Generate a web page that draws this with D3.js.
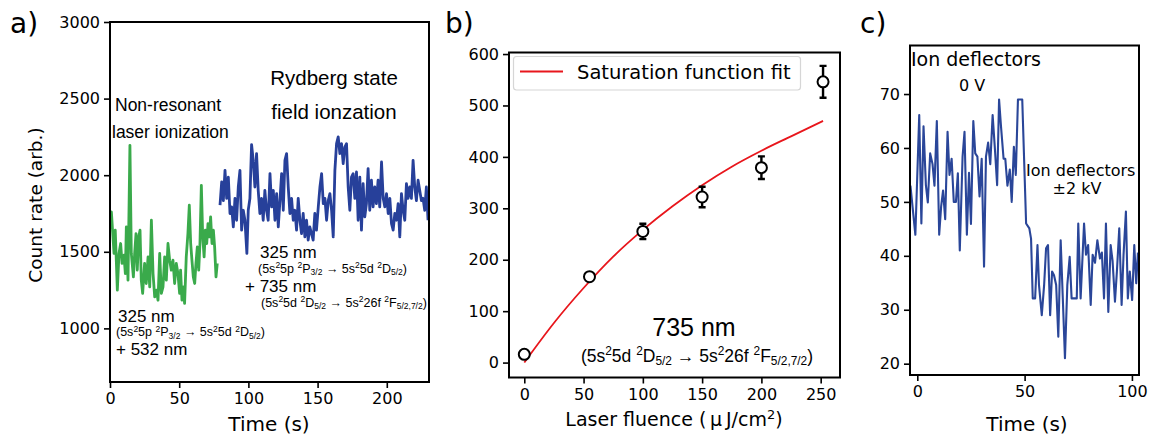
<!DOCTYPE html>
<meta charset="utf-8">
<style>
body { margin: 0; background: #fff; }
svg { font-family: "DejaVu Sans", sans-serif; }
.tick text { font-size: 16px; fill: #000; }
.domain { display: none; }
.tick line { stroke: #000; stroke-width: 1.6px; }
.frame { fill: none; stroke: #000; stroke-width: 2px; }
.ann { font-family: "Liberation Sans", Arial, sans-serif; fill: #000; }
</style>
<svg width="1149" height="434"></svg>
<script src="https://cdn.jsdelivr.net/npm/d3@7"></script>
<script>

// ---- panel a: count rate vs time
var greenTime = [0,1,2.9,3.8,5.3,6.5,7.7,8.7,10.1,11.1,11.8,13,14.4,15.4,16.9,17.8,18.8,19.7,20.7,21.7,22.6,23.6,25,26.2,27.5,28.7,29.9,31.1,32.3,33.5,34.7,35.9,37.1,38.3,39.5,40.7,41.9,43.1,44.3,45.5,46.7,47.9,49.1,50.3,51,52,53,53.9,55.1,56.3,57.3,58.3,59.2,60.2,61.2,62.1,63.1,64.1,65,66,67,68,68.9,69.9,70.8,71.8,72.7,73.7,74.7,75.6,76.6,77.5];
var greenRate = [1654,1760,1489,1641,1250,1489,1554,1424,1478,1358,1662,1315,2195,1489,1336,1489,1619,1380,1597,1641,1315,1228,1424,1293,1467,1271,1706,1358,1206,1250,1184,1489,1228,1271,1467,1315,1554,1445,1380,1445,1293,1424,1358,1228,1380,1184,1271,1163,1467,1619,1804,1554,1445,1336,1293,1424,1532,1380,1554,1934,1597,1467,1641,1554,1684,1597,1728,1554,1641,1532,1336,1424];

var blueTime = [79.5,80.7,81.9,83.1,84.3,85.5,86.7,87.9,89.1,90.3,91.5,92.7,93.9,95.1,96.3,97.5,98.9,99.9,101.1,102.3,103.5,104.7,105.9,107.1,108.3,109.5,110.7,111.9,113.1,114.3,115.6,116.8,118,119.2,120.4,121.6,122.8,124,125.2,126.4,127.6,128.8,130,131.2,132.4,133.6,134.8,136,137.2,138.4,139.6,140.8,142,143.2,144.4,145.6,146.8,148,149.2,150.5,151.7,152.9,154.1,155.3,156.5,157.7,158.9,160.1,161.3,162.5,163.7,164.9,166.1,167.3,168.5,169.7,170.9,172.1,173.3,174.5,175.7,176.9,178.1,179.3,180.5,181.7,182.9,184.1,185.3,186.5,187.7,188.9,190.1,191.3,192.5,193.7,194.9,196.2,197.4,198.6,199.8,201,202.2,203.4,204.6,205.8,207,208.2,209.4,210.6,211.8,213,214.2,215.4,216.6,217.8,219,220.2,221.4,222.6,223.8,225,226.2,227.4,228.6,229.8];
var blueRate = [1804,1956,1834,2032,1849,1988,1750,1793,1662,1849,1706,1923,2032,1641,1771,1706,1489,1771,1849,2200,2097,1923,2141,1901,1750,1849,1706,1901,1771,1706,2010,1793,1901,1706,1880,1662,1834,2010,1771,2097,2141,1923,1750,1849,1706,1771,1641,1849,1706,1619,1750,1597,1706,1576,1662,1619,1576,1750,1641,1793,1923,2010,1814,1849,1706,1834,1880,1771,1597,2032,2206,2250,2141,2206,2075,2184,2206,1923,1771,1988,2010,1849,2021,1706,1988,1641,1945,1728,1814,2043,1771,1967,1793,1923,1814,1967,1793,2086,1849,1793,1880,1750,1849,1684,1641,1750,1706,1814,1597,1880,1771,1706,1945,1849,1923,1849,2097,1923,1834,1967,1901,1834,1849,1771,1923,1706];

var timeTicksA = [0, 50, 100, 150, 200];
var rateTicks = [1000, 1500, 2000, 2500, 3000];

// ---- panel b: signal vs laser fluence
var fluence = [0, 55, 100, 150, 200, 252];
var signal = [16, 167, 255, 322, 379, 546];
var signalErr = [3, 4, 15, 20, 22, 31];
var fitFluence = [0, 25, 50, 75, 100, 125, 150, 175, 200, 225, 252];
var fitSignal = [0, 77, 145, 206, 258, 304, 345, 381, 412, 440, 470];
var fluenceTicks = [0, 50, 100, 150, 200, 250];
var signalTicks = [0, 100, 200, 300, 400, 500, 600];

// ---- panel c: counts vs time with deflectors
var cTime = [-3.2,-0.9,0.9,1.9,2.9,4,4.9,6,7.1,8,9.1,10.2,11.1,12,13,14.1,15,16,17,18,18.9,19.8,21.1,22,23.1,24.1,25,26.1,27,28,29,30,31.1,32,33,34,35.1,36.2,37.2,38.1,39,40.2,41,42,43.1,44,45,45.9,46.9,48.9,50.7,52.2,53,53.8,54.9,56,56.7,58,59.1,60,60.9,61.9,62.8,63.7,64.7,65.7,66.8,67.8,68.8,69.9,71,71.9,73.2,74.3,75,76.1,77.7,78.6,79.6,80.8,81.7,82.8,83.9,85.1,86,87,87.9,89,90.1,91,92.1,93,94.1,95.2,96.1,97.2,98.1,99,100.1,101.1,102,102.8];
var cCount = [53,43.9,66.1,46,64,53.1,49.9,59,57,53,65,43.9,49.1,52.1,46.8,63,55,58,50,50,55.3,41,58.4,63,43.9,55.4,45.9,65,59,58.4,51,58,38,58.4,61,57,66.1,59.6,53.1,69,64,58,58,53,56,50,60.2,55,69,69,46,45.1,43.2,32.1,32.1,42,34.6,29,34.6,41.4,42,29,37.1,36.4,34.6,25,42.9,32.1,21,34.6,39.8,32.1,32.1,32.1,46,32.1,46,40.2,42,30.9,40.2,38.7,42.9,39.5,40.6,32.1,46,29.6,42,39,31.5,37.1,45.1,30.9,40.2,48.2,32.1,37.1,31.8,42,34.9,40.6];
var timeTicksC = [0, 50, 100];
var countTicks = [20, 30, 40, 50, 60, 70];

var svg = d3.select("svg");
var defs = svg.append("defs");

function panel(id, box, xDom, yDom, xTicks, yTicks) {
  defs.append("clipPath").attr("id", id)
    .append("rect").attr("x", box.l).attr("y", box.t)
    .attr("width", box.r - box.l).attr("height", box.b - box.t);
  var x = d3.scaleLinear().domain(xDom).range([box.l, box.r]);
  var y = d3.scaleLinear().domain(yDom).range([box.b, box.t]);
  svg.append("g").attr("transform", "translate(0," + box.b + ")")
    .call(d3.axisBottom(x).tickValues(xTicks).tickFormat(d3.format("d"))
      .tickSize(6).tickPadding(5).tickSizeOuter(0))
    .attr("font-family", null).attr("font-size", null);
  svg.append("g").attr("transform", "translate(" + box.l + ",0)")
    .call(d3.axisLeft(y).tickValues(yTicks).tickFormat(d3.format("d"))
      .tickSize(6).tickPadding(4).tickSizeOuter(0))
    .attr("font-family", null).attr("font-size", null);
  var g = svg.append("g").attr("clip-path", "url(#" + id + ")");
  return {x: x, y: y, g: g, box: box};
}

function frame(p) {
  svg.append("rect").attr("class", "frame")
    .attr("x", p.box.l).attr("y", p.box.t)
    .attr("width", p.box.r - p.box.l).attr("height", p.box.b - p.box.t);
}

function drawLine(p, xs, ys, color, w) {
  var line = d3.line().x(function(d, i) { return p.x(xs[i]); }).y(function(d) { return p.y(d); });
  p.g.append("path").datum(ys).attr("d", line)
    .attr("fill", "none").attr("stroke", color).attr("stroke-width", w)
    .attr("stroke-linejoin", "round");
}

// rich text: parts are [text, "n" | "sup" | "sub"]
function rich(x, y, parts, size, anchor) {
  var t = svg.append("text").attr("class", "ann").attr("x", x).attr("y", y)
    .attr("font-size", size).attr("text-anchor", anchor || "start");
  var shift = 0;
  parts.forEach(function(p) {
    var target = p[1] == "sup" ? -0.36 * size : p[1] == "sub" ? 0.22 * size : 0;
    t.append("tspan").attr("dy", target - shift)
      .attr("font-size", p[1] == "n" ? size : size * 0.68).text(p[0]);
    shift = target;
  });
  return t;
}

function label(x, y, txt, size, anchor, fam) {
  return svg.append("text").attr("x", x).attr("y", y).attr("font-size", size)
    .attr("text-anchor", anchor || "start").attr("font-family", fam || null).text(txt);
}

// ---------------- panel a
var pa = panel("clipA", {l: 110, t: 22, r: 429, b: 382}, [0, 230.5], [650, 3000], timeTicksA, rateTicks);
drawLine(pa, greenTime, greenRate, "#3aaa4b", 2.8);
drawLine(pa, blueTime, blueRate, "#27409a", 2.8);
frame(pa);

label(10, 33, "a)", 28);
label(269, 430.5, "Time (s)", 20, "middle");
svg.append("text").attr("transform", "translate(42,205) rotate(-90)")
  .attr("font-size", 18.5).attr("text-anchor", "middle").text("Count rate (arb.)");

var arial = "Liberation Sans, Arial, sans-serif";
label(115, 111, "Non-resonant", 17.5, "start", arial);
label(112, 137.5, "laser ionization", 17.5, "start", arial);
label(334, 85, "Rydberg state", 20.5, "middle", arial);
label(334, 118.5, "field ionzation", 20.5, "middle", arial);

label(118, 321.5, "325 nm", 17, "start", arial);
rich(116, 336, [["(5s", "n"], ["2", "sup"], ["5p ", "n"], ["2", "sup"], ["P", "n"], ["3/2", "sub"], [" \u2192 5s", "n"], ["2", "sup"], ["5d ", "n"], ["2", "sup"], ["D", "n"], ["5/2", "sub"], [")", "n"]], 12.5);
label(116, 354.5, "+ 532 nm", 17, "start", arial);

label(260, 257.5, "325 nm", 17, "start", arial);
rich(258, 272.5, [["(5s", "n"], ["2", "sup"], ["5p ", "n"], ["2", "sup"], ["P", "n"], ["3/2", "sub"], [" \u2192 5s", "n"], ["2", "sup"], ["5d ", "n"], ["2", "sup"], ["D", "n"], ["5/2", "sub"], [")", "n"]], 12.5);
label(245, 292, "+ 735 nm", 17, "start", arial);
rich(261, 306.5, [["(5s", "n"], ["2", "sup"], ["5d ", "n"], ["2", "sup"], ["D", "n"], ["5/2", "sub"], [" \u2192 5s", "n"], ["2", "sup"], ["26f ", "n"], ["2", "sup"], ["F", "n"], ["5/2,7/2", "sub"], [")", "n"]], 12.5);

// ---------------- panel b
var pb = panel("clipB", {l: 509, t: 52.5, r: 840, b: 377.5}, [-12.9, 266.3], [-29, 603], fluenceTicks, signalTicks);
pb.g.append("path").datum(fitSignal)
  .attr("d", d3.line().curve(d3.curveMonotoneX)
    .x(function(d, i) { return pb.x(fitFluence[i]); }).y(function(d) { return pb.y(d); }))
  .attr("fill", "none").attr("stroke", "#e8161c").attr("stroke-width", 1.8);

var pts = pb.g.selectAll(".pt").data(fluence).enter().append("g");
pts.append("line")
  .attr("x1", function(d) { return pb.x(d); }).attr("x2", function(d) { return pb.x(d); })
  .attr("y1", function(d, i) { return pb.y(signal[i] - signalErr[i]); })
  .attr("y2", function(d, i) { return pb.y(signal[i] + signalErr[i]); })
  .attr("stroke", "#000").attr("stroke-width", 2.4);
[-1, 1].forEach(function(s) {
  pts.append("line")
    .attr("x1", function(d) { return pb.x(d) - 3.5; }).attr("x2", function(d) { return pb.x(d) + 3.5; })
    .attr("y1", function(d, i) { return pb.y(signal[i] + s * signalErr[i]); })
    .attr("y2", function(d, i) { return pb.y(signal[i] + s * signalErr[i]); })
    .attr("stroke", "#000").attr("stroke-width", 2.4);
});
pts.append("circle")
  .attr("cx", function(d) { return pb.x(d); })
  .attr("cy", function(d, i) { return pb.y(signal[i]); })
  .attr("r", 5.5).attr("fill", "#fff").attr("stroke", "#000").attr("stroke-width", 2);
frame(pb);

svg.append("rect").attr("x", 513.5).attr("y", 56.5).attr("width", 287).attr("height", 33.5)
  .attr("rx", 3).attr("fill", "#fff").attr("stroke", "#d6d6d6").attr("stroke-width", 1.2);
svg.append("line").attr("x1", 520).attr("x2", 563).attr("y1", 71.5).attr("y2", 71.5)
  .attr("stroke", "#e8161c").attr("stroke-width", 2.2);
label(577, 79, "Saturation function fit", 19.5);

label(445, 33, "b)", 28);
var xl = svg.append("text").attr("x", 674).attr("y", 426).attr("font-size", 19).attr("text-anchor", "middle");
xl.append("tspan").text("Laser fluence (\u2009\u03bc\u2009J/cm");
xl.append("tspan").attr("dy", -7).attr("font-size", 13).text("2");
xl.append("tspan").attr("dy", 7).text(")");

label(694, 336, "735 nm", 25, "middle", arial);
rich(697, 361.5, [["(5s", "n"], ["2", "sup"], ["5d ", "n"], ["2", "sup"], ["D", "n"], ["5/2", "sub"], [" \u2192 5s", "n"], ["2", "sup"], ["26f ", "n"], ["2", "sup"], ["F", "n"], ["5/2,7/2", "sub"], [")", "n"]], 17.5, "middle");

// ---------------- panel c
var pc = panel("clipC", {l: 910, t: 45.5, r: 1139, b: 375}, [-3.4, 103.3], [17.9, 79], timeTicksC, countTicks);
drawLine(pc, cTime, cCount, "#2a4699", 2.1);
frame(pc);

label(860, 33, "c)", 28);
label(1027, 430.5, "Time (s)", 20, "middle");
label(911, 66, "Ion deflectors", 19);
label(972, 91, "0 V", 16, "middle");
label(1026, 176, "Ion deflectors", 16);
label(1077, 193.5, "\u00b12 kV", 16, "middle");

</script>
